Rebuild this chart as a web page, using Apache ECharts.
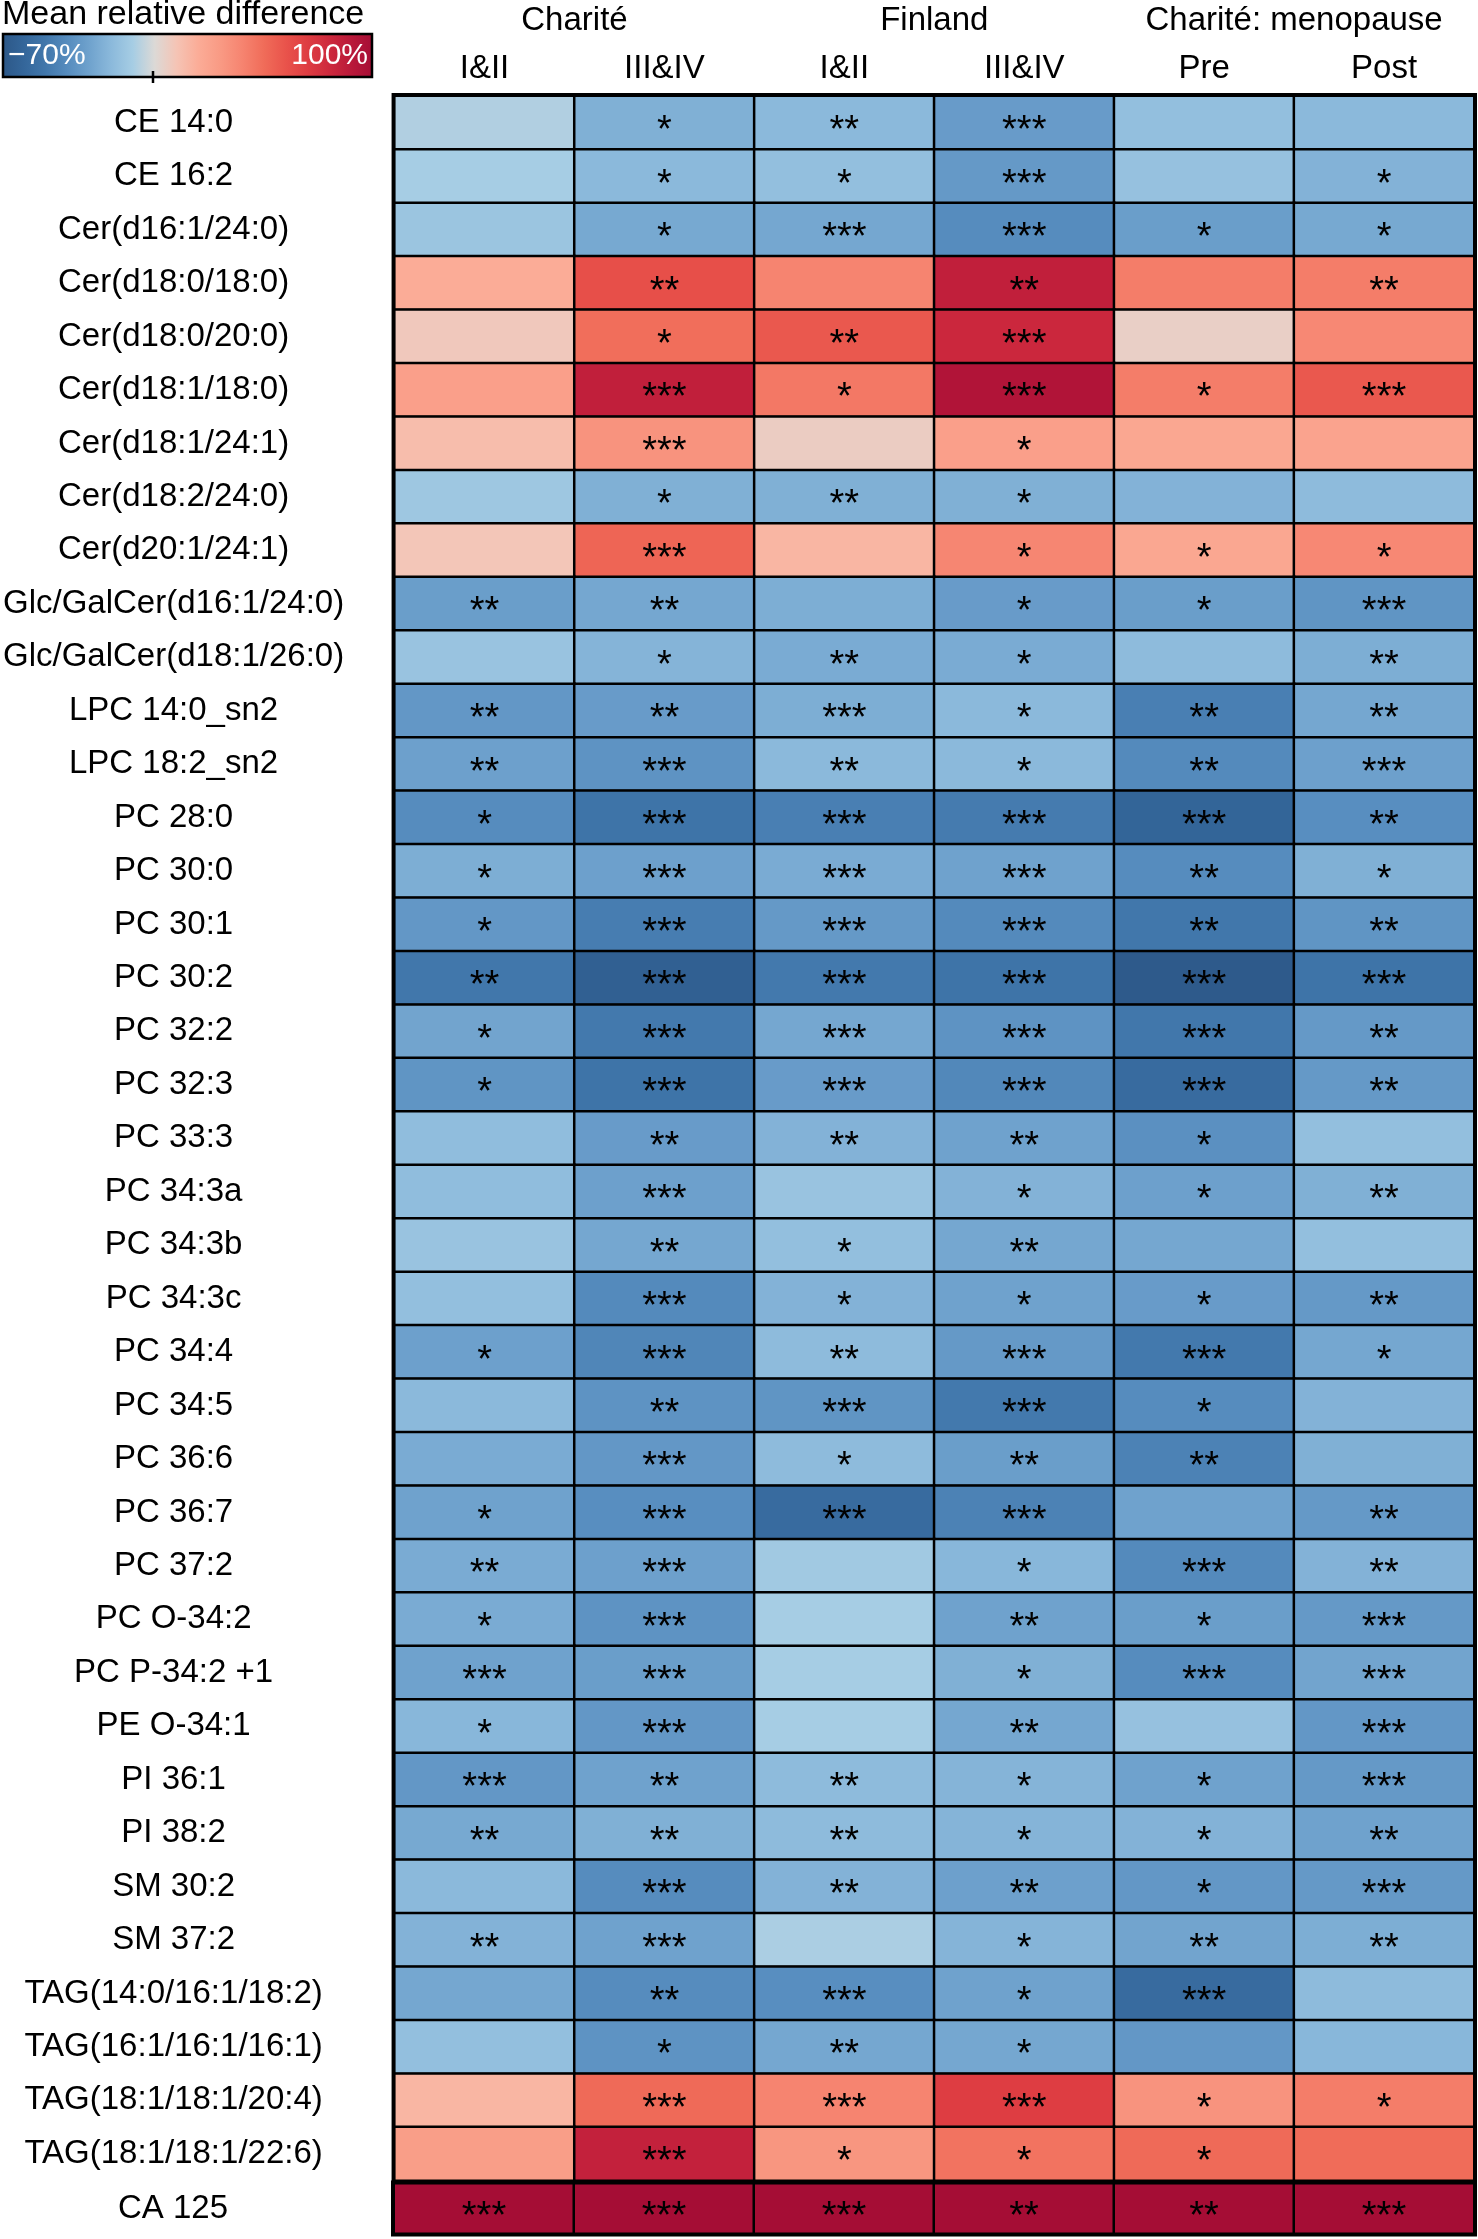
<!DOCTYPE html>
<html><head><meta charset="utf-8">
<script src="https://cdn.jsdelivr.net/npm/echarts@6/dist/echarts.min.js"></script>
<style>html,body{margin:0;padding:0;background:#fff}#c{width:1478px;height:2239px}</style>
</head><body><div id="c"></div>
<script>
const lipids = ['CE 14:0','CE 16:2','Cer(d16:1/24:0)','Cer(d18:0/18:0)','Cer(d18:0/20:0)','Cer(d18:1/18:0)','Cer(d18:1/24:1)','Cer(d18:2/24:0)','Cer(d20:1/24:1)','Glc/GalCer(d16:1/24:0)','Glc/GalCer(d18:1/26:0)','LPC 14:0_sn2','LPC 18:2_sn2','PC 28:0','PC 30:0','PC 30:1','PC 30:2','PC 32:2','PC 32:3','PC 33:3','PC 34:3a','PC 34:3b','PC 34:3c','PC 34:4','PC 34:5','PC 36:6','PC 36:7','PC 37:2','PC O-34:2','PC P-34:2 +1','PE O-34:1','PI 36:1','PI 38:2','SM 30:2','SM 37:2','TAG(14:0/16:1/18:2)','TAG(16:1/16:1/16:1)','TAG(18:1/18:1/20:4)','TAG(18:1/18:1/22:6)'];
const marker = ['CA 125'];
const columns = ['I&II','III&IV','I&II','III&IV','Pre','Post'];
const groups = ['Charité','Finland','Charité: menopause'];

// mean relative difference (%) per row, columns in order of `columns`
const lipidValues = [
  [-8,-24,-20,-33,-17,-20],
  [-10,-20,-17,-34,-16,-23],
  [-14,-27,-28,-40,-32,-27],
  [20,62,40,86,43,43],
  [8,49,58,81,5,38],
  [27,86,45,94,43,58],
  [13,33,6,27,23,25],
  [-13,-24,-24,-24,-23,-19],
  [9,53,16,39,23,38],
  [-32,-28,-25,-33,-32,-36],
  [-15,-22,-26,-26,-19,-25],
  [-35,-33,-25,-20,-46,-28],
  [-31,-37,-20,-20,-41,-31],
  [-40,-52,-46,-48,-61,-39],
  [-25,-31,-26,-30,-40,-24],
  [-35,-47,-34,-41,-50,-36],
  [-50,-64,-49,-52,-68,-52],
  [-29,-49,-28,-37,-50,-34],
  [-36,-52,-33,-42,-57,-34],
  [-18,-33,-23,-30,-38,-17],
  [-18,-31,-15,-23,-31,-24],
  [-15,-28,-17,-28,-28,-17],
  [-17,-41,-23,-30,-33,-34],
  [-31,-43,-19,-34,-49,-28],
  [-20,-37,-36,-49,-40,-23],
  [-26,-35,-19,-32,-45,-24],
  [-30,-39,-57,-45,-30,-34],
  [-26,-31,-12,-21,-41,-23],
  [-26,-37,-10,-30,-32,-34],
  [-30,-32,-10,-24,-40,-29],
  [-21,-35,-10,-28,-16,-35],
  [-35,-30,-19,-22,-30,-34],
  [-27,-24,-19,-22,-23,-30],
  [-20,-40,-23,-31,-35,-34],
  [-23,-30,-9,-22,-29,-25],
  [-28,-40,-39,-30,-57,-19],
  [-17,-37,-28,-28,-35,-21],
  [16,51,40,70,33,43],
  [28,85,32,47,51,50]
];
const markerValues = [[100,100,100,100,100,100]];

const lipidStars = [
  ['','*','**','***','',''],
  ['','*','*','***','','*'],
  ['','*','***','***','*','*'],
  ['','**','','**','','**'],
  ['','*','**','***','',''],
  ['','***','*','***','*','***'],
  ['','***','','*','',''],
  ['','*','**','*','',''],
  ['','***','','*','*','*'],
  ['**','**','','*','*','***'],
  ['','*','**','*','','**'],
  ['**','**','***','*','**','**'],
  ['**','***','**','*','**','***'],
  ['*','***','***','***','***','**'],
  ['*','***','***','***','**','*'],
  ['*','***','***','***','**','**'],
  ['**','***','***','***','***','***'],
  ['*','***','***','***','***','**'],
  ['*','***','***','***','***','**'],
  ['','**','**','**','*',''],
  ['','***','','*','*','**'],
  ['','**','*','**','',''],
  ['','***','*','*','*','**'],
  ['*','***','**','***','***','*'],
  ['','**','***','***','*',''],
  ['','***','*','**','**',''],
  ['*','***','***','***','','**'],
  ['**','***','','*','***','**'],
  ['*','***','','**','*','***'],
  ['***','***','','*','***','***'],
  ['*','***','','**','','***'],
  ['***','**','**','*','*','***'],
  ['**','**','**','*','*','**'],
  ['','***','**','**','*','***'],
  ['**','***','','*','**','**'],
  ['','**','***','*','***',''],
  ['','*','**','*','',''],
  ['','***','***','***','*','*'],
  ['','***','*','*','*','']
];
const markerStars = [['***','***','***','**','**','***']];

const scaleMin = -70, scaleMax = 100;
const scaleLabels = ['\u221270%','100%'];
const palette = ['#2c5787','#34669a','#4177ab','#568cbe','#6fa2cd','#8bb9db','#a6cde4','#dcd9d6',
  '#f5c4b5','#fbac97','#f99a84','#f68470','#f06c59','#e9534b','#de3d42','#cd293d','#b9193a','#a50d35'];

const FONT = '"Liberation Sans", Arial, Helvetica, sans-serif';

function toData(vals, st) {
  const out = [];
  vals.forEach((r, yi) => r.forEach((v, xi) => out.push([xi, yi, v, st[yi][xi]])));
  return out;
}

const chart = echarts.init(document.getElementById('c'), null, {renderer: 'canvas'});
const L = 394, R = 4;
const rowH = 53.45;
const top1 = 96;
const h1 = rowH * lipids.length;
const top2 = top1 + h1 + 3;

const cellStyle = {borderColor: '#000', borderWidth: 2.5};
const starLabel = {
  show: true, color: '#000', fontSize: 38, fontFamily: FONT,
  offset: [0, 9],
  formatter: p => p.data[3]
};
const yLabel = {color: '#000', fontSize: 33, fontFamily: FONT, align: 'center', margin: 221, padding: [6, 0, 0, 0]};

chart.setOption({
  animation: false,
  backgroundColor: '#fff',
  grid: [
    {left: L, right: R, top: top1, height: h1, show: true, borderColor: '#000', borderWidth: 6, backgroundColor: 'transparent'},
    {left: L, right: R, top: top2, height: 50, show: true, borderColor: '#000', borderWidth: 6, backgroundColor: 'transparent'}
  ],
  xAxis: [
    {type: 'category', gridIndex: 0, position: 'top', data: columns,
     axisLine: {show: false}, axisTick: {show: false}, splitLine: {show: false},
     axisLabel: {color: '#000', fontSize: 33, fontFamily: FONT, margin: 11, interval: 0}},
    {type: 'category', gridIndex: 0, position: 'top', offset: 48, data: groups,
     axisLine: {show: false}, axisTick: {show: false}, splitLine: {show: false},
     axisLabel: {color: '#000', fontSize: 33, fontFamily: FONT, margin: 11, interval: 0}},
    {type: 'category', gridIndex: 1, data: columns, show: false}
  ],
  yAxis: [
    {type: 'category', gridIndex: 0, data: lipids, inverse: true,
     axisLine: {show: false}, axisTick: {show: false}, splitLine: {show: false},
     axisLabel: Object.assign({interval: 0}, yLabel)},
    {type: 'category', gridIndex: 1, data: marker, inverse: true,
     axisLine: {show: false}, axisTick: {show: false}, splitLine: {show: false},
     axisLabel: Object.assign({interval: 0}, yLabel)}
  ],
  visualMap: {
    show: false, type: 'continuous', min: scaleMin, max: scaleMax, dimension: 2,
    seriesIndex: [0, 1], inRange: {color: palette}
  },
  series: [
    {type: 'heatmap', xAxisIndex: 0, yAxisIndex: 0, data: toData(lipidValues, lipidStars),
     itemStyle: cellStyle, label: starLabel, emphasis: {disabled: true}},
    {type: 'heatmap', xAxisIndex: 2, yAxisIndex: 1, data: toData(markerValues, markerStars),
     itemStyle: cellStyle, label: starLabel, emphasis: {disabled: true}}
  ],
  graphic: [
    {type: 'text', left: 2, top: -2, style: {text: 'Mean relative difference', fill: '#000', font: '34px ' + FONT}},
    {type: 'rect', shape: {x: 3, y: 34, width: 369, height: 43},
     style: {fill: new echarts.graphic.LinearGradient(0, 0, 1, 0,
        palette.map((c, i) => ({offset: i / (palette.length - 1), color: c}))), stroke: '#000', lineWidth: 2.5}},
    {type: 'line', shape: {x1: 153, y1: 71, x2: 153, y2: 83}, style: {stroke: '#000', lineWidth: 2.5}},
    {type: 'text', x: 8, y: 56, style: {text: scaleLabels[0], fill: '#fff', font: '30px ' + FONT, textVerticalAlign: 'middle', textAlign: 'left'}},
    {type: 'text', x: 368, y: 56, style: {text: scaleLabels[1], fill: '#fff', font: '30px ' + FONT, textVerticalAlign: 'middle', textAlign: 'right'}}
  ]
});
</script></body></html>
